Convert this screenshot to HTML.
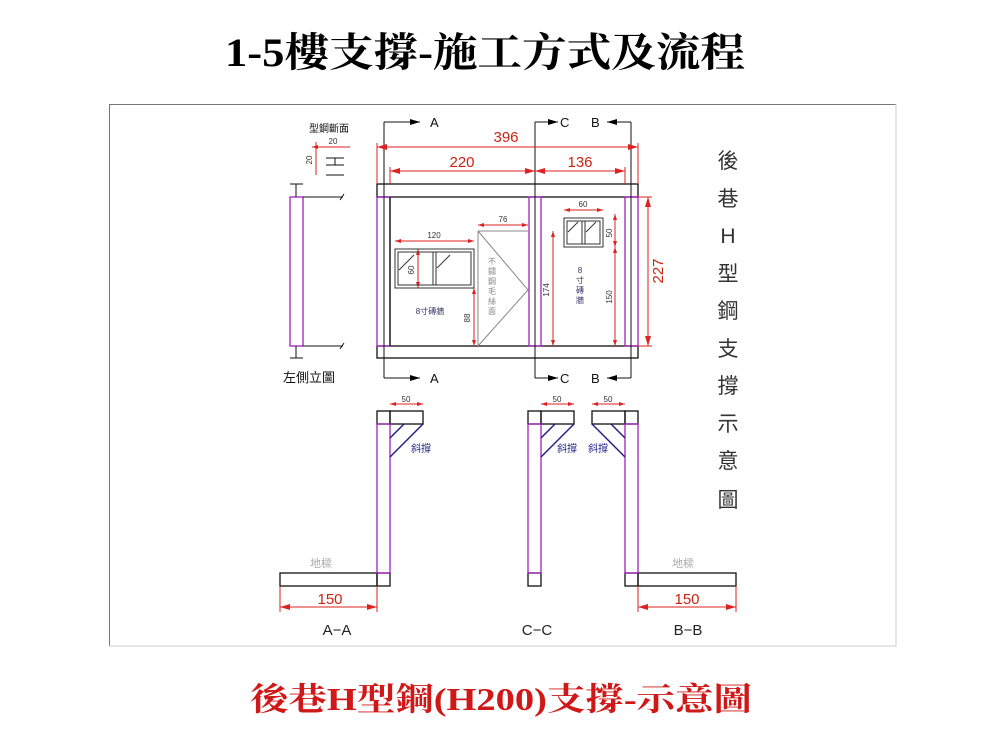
<!DOCTYPE html>
<html><head><meta charset="utf-8"><style>
html,body{margin:0;padding:0;background:#fff;width:1000px;height:750px;overflow:hidden}
svg{display:block}
</style></head><body>
<svg width="1000" height="750" viewBox="0 0 1000 750" xmlns="http://www.w3.org/2000/svg">
<defs>
<marker id="ar" markerWidth="10" markerHeight="6" refX="10" refY="3" orient="auto-start-reverse" markerUnits="userSpaceOnUse"><path d="M0,0 L10,3 L0,6 z" fill="#d22"/></marker>
<marker id="ab" markerWidth="10" markerHeight="6" refX="10" refY="3" orient="auto-start-reverse" markerUnits="userSpaceOnUse"><path d="M0,0 L10,3 L0,6 z" fill="#000"/></marker>
<marker id="as" markerWidth="6" markerHeight="4" refX="6" refY="2" orient="auto-start-reverse" markerUnits="userSpaceOnUse"><path d="M0,0 L6,2 L0,4 z" fill="#d22"/></marker>
</defs>
<text x="225" y="66" font-family="Liberation Serif,'Noto Serif CJK SC',serif" font-weight="bold" font-size="40" textLength="520" lengthAdjust="spacingAndGlyphs">1-5樓支撐-施工方式及流程</text>
<text x="250" y="710" fill="#d01818" font-family="Liberation Serif,'Noto Serif CJK SC',serif" font-weight="bold" font-size="32" textLength="502" lengthAdjust="spacingAndGlyphs">後巷H型鋼(H200)支撐-示意圖</text>
<path d="M109.5,646 V104.5 H896" stroke="#777" fill="none"/>
<path d="M896,104 V646 H109" stroke="#ccc" fill="none"/>

<g fill="none" stroke-width="1.3">
<rect x="377" y="184" width="261" height="13" stroke="#111"/>
<rect x="377" y="346" width="261" height="12" stroke="#111"/>
<rect x="377" y="197" width="13" height="149" stroke="#a020c0"/>
<rect x="529" y="197" width="12" height="149" stroke="#a020c0"/>
<rect x="625" y="197" width="13" height="149" stroke="#a020c0"/>
<line x1="390" y1="197" x2="390" y2="346" stroke="#111"/>
<rect x="290" y="197" width="13" height="149" stroke="#a020c0"/>
<path d="M296,184 V197 M290,184 H303 M296,346 V358 M290,358 H303 M303,197 H343 M303,346 H343" stroke="#111" stroke-width="1"/>
<path d="M340,200 l4,-6 M340,349 l4,-6" stroke="#111" stroke-width="1"/>
<g stroke="#111" stroke-width="1">
<line x1="384" y1="122" x2="384" y2="378"/><line x1="535" y1="122" x2="535" y2="378"/><line x1="631" y1="122" x2="631" y2="378"/>
<line x1="384" y1="122" x2="420" y2="122" marker-end="url(#ab)"/><line x1="384" y1="378" x2="420" y2="378" marker-end="url(#ab)"/>
<line x1="535" y1="122" x2="558" y2="122" marker-end="url(#ab)"/><line x1="535" y1="378" x2="558" y2="378" marker-end="url(#ab)"/>
<line x1="631" y1="122" x2="607" y2="122" marker-end="url(#ab)"/><line x1="631" y1="378" x2="607" y2="378" marker-end="url(#ab)"/>
</g>
<g stroke="#d22" stroke-width="1">
<line x1="377" y1="147" x2="638" y2="147" marker-start="url(#ar)" marker-end="url(#ar)"/>
<line x1="377" y1="143" x2="377" y2="184"/><line x1="638" y1="143" x2="638" y2="184"/>
<line x1="390" y1="171" x2="535" y2="171" marker-start="url(#ar)" marker-end="url(#ar)"/>
<line x1="535" y1="171" x2="625" y2="171" marker-start="url(#ar)" marker-end="url(#ar)"/>
<line x1="390" y1="167" x2="390" y2="184"/><line x1="625" y1="167" x2="625" y2="184"/>
<line x1="648" y1="197" x2="648" y2="346" marker-start="url(#ar)" marker-end="url(#ar)"/>
<line x1="638" y1="197" x2="652" y2="197"/><line x1="638" y1="346" x2="652" y2="346"/>
<line x1="395" y1="241" x2="474" y2="241" marker-start="url(#as)" marker-end="url(#as)"/>
<line x1="418" y1="249" x2="418" y2="288" marker-start="url(#as)" marker-end="url(#as)"/>
<line x1="474" y1="288" x2="474" y2="346" marker-start="url(#as)" marker-end="url(#as)"/>
<line x1="478" y1="225" x2="528" y2="225" marker-start="url(#as)" marker-end="url(#as)"/>
<line x1="553" y1="231" x2="553" y2="346" marker-start="url(#as)" marker-end="url(#as)"/>
<line x1="564" y1="210" x2="603" y2="210" marker-start="url(#as)" marker-end="url(#as)"/>
<line x1="615" y1="214" x2="615" y2="247" marker-start="url(#as)" marker-end="url(#as)"/>
<line x1="615" y1="247" x2="615" y2="346" marker-start="url(#as)" marker-end="url(#as)"/>
<line x1="312" y1="147" x2="350" y2="147" marker-start="url(#as)"/>
<line x1="316" y1="142" x2="316" y2="175"/>
</g>
<g stroke="#333" stroke-width="1">
<rect x="395" y="249" width="79" height="39"/><rect x="398" y="252" width="73" height="33"/>
<line x1="433" y1="252" x2="433" y2="285"/><line x1="436" y1="252" x2="436" y2="285"/>
<line x1="399" y1="270" x2="414" y2="255"/><line x1="437" y1="268" x2="450" y2="255"/>
<rect x="564" y="218" width="39" height="29"/><rect x="567" y="221" width="33" height="23"/>
<line x1="582" y1="221" x2="582" y2="244"/><line x1="585" y1="221" x2="585" y2="244"/>
<line x1="568" y1="232" x2="578" y2="222"/><line x1="586" y1="232" x2="596" y2="222"/>
</g>
<path d="M478,231 V346 M478,231 L528,290 L478,346 M478,231 H528" stroke="#888" stroke-width="1"/>
<path d="M326,158 H344 M326,165 H344 M335,158 V165 M326,175 H344" stroke="#111" stroke-width="1"/>

<g stroke="#111">
<rect x="377" y="411" width="13" height="13"/><rect x="390" y="411" width="33" height="13"/>
<rect x="377" y="573" width="13" height="13"/><rect x="280" y="573" width="97" height="13"/>
<rect x="528" y="411" width="13" height="13"/><rect x="541" y="411" width="33" height="13"/>
<rect x="528" y="573" width="13" height="13"/>
<rect x="625" y="411" width="13" height="13"/><rect x="592" y="411" width="33" height="13"/>
<rect x="625" y="573" width="13" height="13"/><rect x="638" y="573" width="98" height="13"/>
</g>
<g stroke="#a020c0">
<rect x="377" y="424" width="13" height="149"/>
<rect x="528" y="424" width="13" height="149"/>
<rect x="625" y="424" width="13" height="149"/>
</g>
<g stroke="#22228a" stroke-width="1.5">
<path d="M423,424 L390,457 M404,424 L390,438"/>
<path d="M574,424 L541,457 M555,424 L541,438"/>
<path d="M592,424 L625,457 M611,424 L625,438"/>
</g>
<g stroke="#d22" stroke-width="1">
<line x1="390" y1="404" x2="423" y2="404" marker-start="url(#as)" marker-end="url(#as)"/>
<line x1="541" y1="404" x2="574" y2="404" marker-start="url(#as)" marker-end="url(#as)"/>
<line x1="592" y1="404" x2="625" y2="404" marker-start="url(#as)" marker-end="url(#as)"/>
<line x1="280" y1="607" x2="377" y2="607" marker-start="url(#ar)" marker-end="url(#ar)"/>
<line x1="638" y1="607" x2="736" y2="607" marker-start="url(#ar)" marker-end="url(#ar)"/>
<line x1="280" y1="586" x2="280" y2="612"/><line x1="377" y1="586" x2="377" y2="612"/>
<line x1="638" y1="586" x2="638" y2="612"/><line x1="736" y1="586" x2="736" y2="612"/>
</g>
</g>

<g font-family="Liberation Sans,'Noto Sans CJK TC',sans-serif">
<g font-size="13" fill="#111"><text x="430" y="127">A</text><text x="430" y="383">A</text>
<text x="560" y="127">C</text><text x="560" y="383">C</text><text x="591" y="127">B</text><text x="591" y="383">B</text></g>
<g fill="#c21" font-size="15" text-anchor="middle"><text x="506" y="142">396</text><text x="462" y="167">220</text><text x="580" y="167">136</text>
<text x="330" y="604">150</text><text x="687" y="604">150</text>
<text transform="translate(663,271) rotate(-90)">227</text></g>
<g fill="#333" font-size="8" text-anchor="middle"><text x="434" y="238">120</text><text x="503" y="222">76</text><text x="583" y="207">60</text>
<text x="406" y="402">50</text><text x="557" y="402">50</text><text x="608" y="402">50</text><text x="333" y="144">20</text>
<text transform="translate(414,270) rotate(-90)">60</text><text transform="translate(470,318) rotate(-90)">88</text>
<text transform="translate(549,290) rotate(-90)">174</text><text transform="translate(612,233) rotate(-90)">50</text>
<text transform="translate(612,297) rotate(-90)">150</text><text transform="translate(312,160) rotate(-90)">20</text>
</g>
<text x="329" y="132" font-size="10" text-anchor="middle" fill="#111">型鋼斷面</text>
<text x="283" y="382" font-size="13" fill="#111">左側立圖</text>
<text x="430" y="314" font-size="8" fill="#336" text-anchor="middle">8寸磚牆</text>
<g font-size="8" fill="#336" text-anchor="middle"><text x="580" y="273">8</text><text x="580" y="283">寸</text><text x="580" y="293">磚</text><text x="580" y="303">牆</text></g>
<g font-size="8" fill="#888" text-anchor="middle"><text x="492" y="264">不</text><text x="492" y="274">鏽</text><text x="492" y="284">鋼</text><text x="492" y="294">毛</text><text x="492" y="304">絲</text><text x="492" y="314">面</text></g>
<g font-size="10" fill="#22228a"><text x="411" y="452">斜撐</text><text x="557" y="452">斜撐</text><text x="588" y="452">斜撐</text></g>
<g font-size="11" fill="#aaa"><text x="310" y="567">地樑</text><text x="672" y="567">地樑</text></g>
<g font-size="15" fill="#222" text-anchor="middle"><text x="337" y="635">A−A</text><text x="537" y="635">C−C</text><text x="688" y="635">B−B</text></g>
<g font-size="21" fill="#333" text-anchor="middle">
<text x="728" y="168">後</text><text x="728" y="206">巷</text><text x="728" y="243">H</text><text x="728" y="281">型</text><text x="728" y="318">鋼</text><text x="728" y="356">支</text><text x="728" y="393">撐</text><text x="728" y="431">示</text><text x="728" y="468">意</text><text x="728" y="507">圖</text>
</g>
</g>
</svg>
</body></html>
